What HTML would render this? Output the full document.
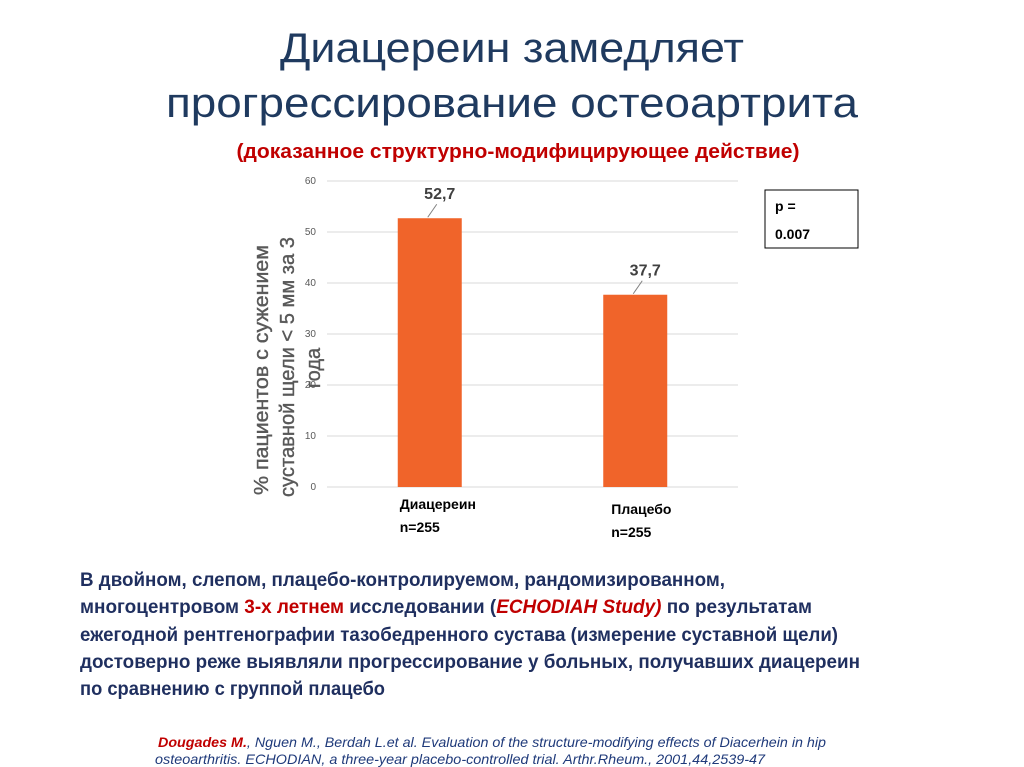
<!DOCTYPE html>
<html><head><meta charset="utf-8"><style>
html,body{margin:0;padding:0;background:#fff;width:1024px;height:767px;overflow:hidden}
svg{display:block}
text{font-family:"Liberation Sans","Noto Sans CJK SC",sans-serif}
</style></head><body>
<svg id="slide" width="1024" height="767" viewBox="0 0 1024 767">
<text x="512" y="62" text-anchor="middle" font-size="42" fill="#1f3a5f" textLength="464" lengthAdjust="spacingAndGlyphs">Диацереин замедляет</text>
<text x="512" y="117" text-anchor="middle" font-size="42" fill="#1f3a5f" textLength="692" lengthAdjust="spacingAndGlyphs">прогрессирование остеоартрита</text>
<text x="518" y="158" text-anchor="middle" font-size="20" font-weight="bold" fill="#c00000" textLength="563" lengthAdjust="spacingAndGlyphs">(доказанное структурно-модифицирующее действие)</text>

<g id="chart"></g>

<g fill="#595959" font-size="20" stroke="#595959" stroke-width="0.4">
<text transform="translate(268,370) rotate(-90)" text-anchor="middle" textLength="250" lengthAdjust="spacingAndGlyphs">% пациентов с сужением</text>
<text transform="translate(294,367) rotate(-90)" text-anchor="middle" textLength="260" lengthAdjust="spacingAndGlyphs">суставной щели &lt; 5 мм за 3</text>
<text transform="translate(320,368) rotate(-90)" text-anchor="middle">года</text>
</g>

<rect x="765" y="190" width="93" height="58" fill="#fff" stroke="#000" stroke-width="1"/>
<text x="775" y="211" font-size="14" font-weight="bold" fill="#000">p =</text>
<text x="775" y="239" font-size="14" font-weight="bold" fill="#000">0.007</text>

<g font-size="19" font-weight="bold" fill="#1f2f5f">
<text x="80" y="586" textLength="645" lengthAdjust="spacingAndGlyphs">В двойном, слепом, плацебо-контролируемом, рандомизированном,</text>
<text x="80" y="613" textLength="732" lengthAdjust="spacingAndGlyphs">многоцентровом <tspan fill="#c00000">3-х летнем</tspan> исследовании  (<tspan fill="#c00000" font-style="italic">ECHODIAH Study)</tspan> по результатам</text>
<text x="80" y="641" textLength="758" lengthAdjust="spacingAndGlyphs">ежегодной рентгенографии тазобедренного сустава (измерение суставной щели)</text>
<text x="80" y="668" textLength="780" lengthAdjust="spacingAndGlyphs">достоверно реже выявляли прогрессирование у больных, получавших диацереин</text>
<text x="80" y="695" textLength="305" lengthAdjust="spacingAndGlyphs">по сравнению с группой плацебо</text>
</g>
<g font-size="14" font-style="italic" fill="#1f3a7a">
<text x="158" y="747" textLength="668" lengthAdjust="spacingAndGlyphs"><tspan fill="#c00000" font-weight="bold">Dougades M.</tspan>, Nguen M., Berdah L.et al. Evaluation of the structure-modifying effects of Diacerhein in hip</text>
<text x="155" y="764" textLength="610" lengthAdjust="spacingAndGlyphs">osteoarthritis. ECHODIAN, a three-year  placebo-controlled trial. Arthr.Rheum., 2001,44,2539-47</text>
</g>
</svg>
<script>
const categories=["Диацереин","Плацебо"];
const values=[52.7,37.7];
const valueLabels=["52,7","37,7"];
const ticks=[0,10,20,30,40,50,60];
const NS="http://www.w3.org/2000/svg";
const g=document.getElementById('chart');
const x0=327,x1=738,yBase=487,yTop=181,yMax=60;
const y=v=>yBase-(v/yMax)*(yBase-yTop);
const band=(x1-x0)/categories.length;
const xc=i=>x0+band*(i+0.5);
function mk(t,a){const e=document.createElementNS(NS,t);for(const k in a)e.setAttribute(k,a[k]);g.appendChild(e);return e;}
ticks.forEach(t=>{
 const l=mk('line',{x1:x0,x2:x1,y1:y(t),y2:y(t),stroke:'#d9d9d9','stroke-width':1});
 
 
 const tx=mk('text',{x:316,y:y(t)+3,'text-anchor':'end','font-size':10,fill:'#595959'});
 tx.textContent=t;
 
 
});
const bw=64;
categories.forEach((c,i)=>{
 const cx=xc(i);
 const r=mk('rect',{x:cx-bw/2,y:y(values[i]),width:bw,height:yBase-y(values[i]),fill:'#f0642a'});
 
 
 const ld=mk('line',{x1:cx-2,y1:y(values[i])-1,x2:cx+7,y2:y(values[i])-14,stroke:'#808080','stroke-width':1});
 
 
 const vt=mk('text',{x:cx+10,y:y(values[i])-19,'text-anchor':'middle','font-size':16,'font-weight':'bold',fill:'#404040'});
 vt.textContent=valueLabels[i];
 
 
 const lx=cx-bw/2+2+i*6, dy=i===0?0:5;
 const c1=mk('text',{x:lx,y:509+dy,'font-size':14,'font-weight':'bold',fill:'#000'});
 c1.textContent=c;
 
 
 const c2=mk('text',{x:lx,y:532+dy,'font-size':14,'font-weight':'bold',fill:'#000'});
 c2.textContent='n=255';
 
 
});
</script>
</body></html>
